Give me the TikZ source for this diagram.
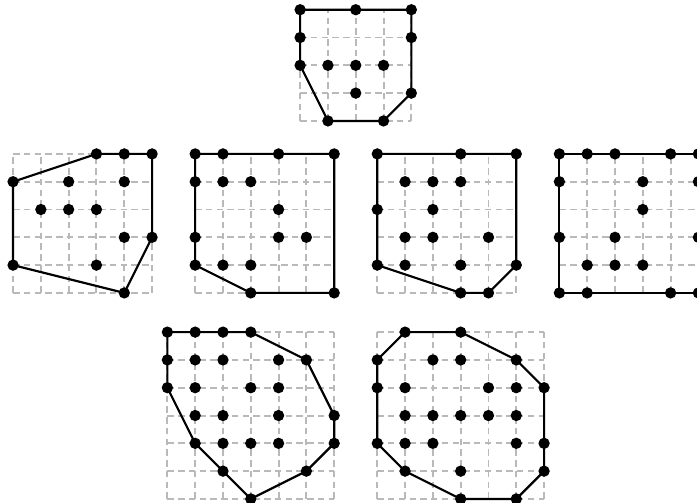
\documentclass[tikz,border=0pt]{standalone}
\usepackage{tikz}

\begin{document}
\begin{tikzpicture}[
    x=0.5cm,y=0.5cm,
    lattice/.style={draw=gray!55,dash pattern=on 3.3pt off 2.2pt,line width=1pt,step=0.5cm},
    hull/.style={draw=black,line width=1.1pt,line join=round},
    pt/.style={circle,fill=black,inner sep=0pt,minimum size=5.8pt},
]
\useasboundingbox (0,0) rectangle (25.07,18.09);

% --- top polygon ---
\begin{scope}[shift={(10.795,13.74)}]
  \draw[lattice] (0,0) grid (4,4);
  \draw[hull] (0,4) -- (4,4) -- (4,1) -- (3,0) -- (1,0) -- (0,2) -- cycle;
  \foreach \x/\y [count=\k] in {0/4,2/4,4/4,0/3,4/3,0/2,1/2,2/2,3/2,2/1,4/1,1/0,3/0}
    \node[pt] (t\k) at (\x,\y) {};
\end{scope}

% --- middle row ---
\begin{scope}[shift={(0.47,7.554)}]
  \draw[lattice] (0,0) grid (5,5);
  \draw[hull] (3,5) -- (5,5) -- (5,2) -- (4,0) -- (0,1) -- (0,4) -- cycle;
  \foreach \x/\y [count=\k] in {3/5,4/5,5/5,0/4,2/4,4/4,1/3,2/3,3/3,4/2,5/2,0/1,3/1,4/0}
    \node[pt] (a\k) at (\x,\y) {};
\end{scope}

\begin{scope}[shift={(7.02,7.554)}]
  \draw[lattice] (0,0) grid (5,5);
  \draw[hull] (0,5) -- (5,5) -- (5,0) -- (2,0) -- (0,1) -- cycle;
  \foreach \x/\y [count=\k] in {0/5,1/5,3/5,5/5,0/4,1/4,2/4,3/3,0/2,3/2,4/2,0/1,1/1,2/1,2/0,5/0}
    \node[pt] (b\k) at (\x,\y) {};
\end{scope}

\begin{scope}[shift={(13.57,7.554)}]
  \draw[lattice] (0,0) grid (5,5);
  \draw[hull] (0,5) -- (5,5) -- (5,1) -- (4,0) -- (3,0) -- (0,1) -- cycle;
  \foreach \x/\y [count=\k] in {0/5,3/5,5/5,1/4,2/4,3/4,0/3,2/3,1/2,2/2,4/2,0/1,1/1,3/1,5/1,3/0,4/0}
    \node[pt] (c\k) at (\x,\y) {};
\end{scope}

\begin{scope}[shift={(20.12,7.554)}]
  \draw[lattice] (0,0) grid (5,5);
  \draw[hull] (0,5) -- (5,5) -- (5,0) -- (0,0) -- cycle;
  \foreach \x/\y [count=\k] in {0/5,1/5,2/5,4/5,5/5,0/4,3/4,5/4,3/3,0/2,2/2,5/2,1/1,2/1,3/1,0/0,1/0,4/0,5/0}
    \node[pt] (d\k) at (\x,\y) {};
\end{scope}

% --- bottom row ---
\begin{scope}[shift={(6.02,0.144)}]
  \draw[lattice] (0,0) grid (6,6);
  \draw[hull] (0,6) -- (3,6) -- (5,5) -- (6,3) -- (6,2) -- (5,1) -- (3,0) -- (1,2) -- (0,4) -- cycle;
  \foreach \x/\y [count=\k] in {0/6,1/6,2/6,3/6,0/5,1/5,2/5,4/5,5/5,0/4,1/4,3/4,4/4,
                                1/3,2/3,4/3,6/3,1/2,2/2,3/2,4/2,6/2,2/1,5/1,3/0}
    \node[pt] (e\k) at (\x,\y) {};
\end{scope}

\begin{scope}[shift={(13.57,0.144)}]
  \draw[lattice] (0,0) grid (6,6);
  \draw[hull] (1,6) -- (3,6) -- (5,5) -- (6,4) -- (6,1) -- (5,0) -- (3,0) -- (1,1) -- (0,2) -- (0,5) -- cycle;
  \foreach \x/\y [count=\k] in {1/6,3/6,0/5,2/5,3/5,5/5,0/4,1/4,4/4,5/4,6/4,1/3,2/3,3/3,
                                4/3,5/3,0/2,1/2,2/2,5/2,6/2,1/1,3/1,6/1,3/0,5/0}
    \node[pt] (f\k) at (\x,\y) {};
\end{scope}
\end{tikzpicture}
\end{document}
